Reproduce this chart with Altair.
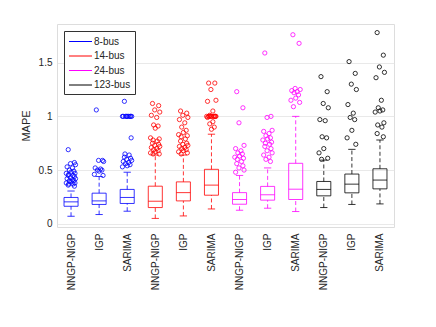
import json
import altair as alt
import pandas as pd

# ---------------- data ----------------
METHODS = ["NNGP-NIGP", "IGP", "SARIMA"] * 4
BUSES = ["8-bus"] * 3 + ["14-bus"] * 3 + ["24-bus"] * 3 + ["123-bus"] * 3
BUS_ORDER = ["8-bus", "14-bus", "24-bus", "123-bus"]
BUS_COLORS = ["#0000ff", "#ff0000", "#ff00ff", "#000000"]

Q1 = [0.163, 0.180, 0.189, 0.151, 0.213, 0.266, 0.182, 0.220, 0.226, 0.260, 0.288, 0.325]
MED = [0.204, 0.213, 0.245, 0.210, 0.290, 0.360, 0.226, 0.270, 0.322, 0.320, 0.369, 0.407]
Q3 = [0.245, 0.285, 0.320, 0.350, 0.390, 0.507, 0.290, 0.348, 0.563, 0.394, 0.463, 0.512]
LOW = [0.070, 0.086, 0.117, 0.050, 0.073, 0.138, 0.126, 0.145, 0.114, 0.151, 0.180, 0.185]
HIGH = [0.305, 0.440, 0.480, 0.640, 0.640, 0.834, 0.450, 0.520, 1.000, 0.593, 0.693, 0.780]

OUTLIERS = [
    [0.69, 0.57, 0.56, 0.55, 0.53, 0.52, 0.50, 0.49, 0.48, 0.47, 0.47, 0.46, 0.45, 0.45,
     0.44, 0.43, 0.42, 0.42, 0.41, 0.40, 0.40, 0.39, 0.38, 0.38, 0.37, 0.37, 0.36, 0.35],
    [1.06, 0.59, 0.59, 0.58, 0.52, 0.51, 0.50, 0.50, 0.49, 0.46, 0.45],
    [1.14, 1.00, 1.00, 1.00, 1.00, 1.00, 1.00, 1.00, 1.00, 1.00, 0.80, 0.65, 0.64, 0.62,
     0.61, 0.60, 0.59, 0.58, 0.57, 0.56, 0.55, 0.54, 0.53],
    [1.12, 1.10, 1.06, 1.04, 1.01, 0.99, 0.92, 0.91, 0.89, 0.80, 0.79, 0.78, 0.77, 0.75,
     0.74, 0.73, 0.72, 0.71, 0.70, 0.69, 0.68, 0.67, 0.66, 0.65, 0.65],
    [1.05, 1.03, 1.01, 0.99, 0.97, 0.94, 0.90, 0.87, 0.85, 0.83, 0.82, 0.81, 0.79, 0.77,
     0.75, 0.74, 0.73, 0.72, 0.71, 0.70, 0.69, 0.68, 0.67, 0.66, 0.65],
    [1.31, 1.31, 1.25, 1.15, 1.14, 1.05, 1.01, 1.00, 1.00, 1.00, 1.00, 1.00, 1.00, 1.00,
     1.00, 1.00, 1.00, 0.99, 0.95, 0.93, 0.90, 0.88],
    [1.23, 1.08, 0.94, 0.73, 0.70, 0.68, 0.66, 0.65, 0.63, 0.62, 0.61, 0.60, 0.58, 0.56,
     0.54, 0.52, 0.50, 0.48],
    [1.59, 1.00, 0.99, 0.87, 0.86, 0.84, 0.82, 0.80, 0.79, 0.78, 0.76, 0.75, 0.74, 0.72,
     0.70, 0.68, 0.66, 0.64, 0.62, 0.60, 0.58],
    [1.76, 1.68, 1.26, 1.25, 1.24, 1.23, 1.22, 1.20, 1.17, 1.15, 1.13, 1.09],
    [1.37, 1.23, 1.12, 1.08, 0.97, 0.96, 0.81, 0.80, 0.70, 0.66, 0.61, 0.60],
    [1.51, 1.40, 1.30, 1.25, 1.11, 1.03, 0.99, 0.97, 0.87, 0.80, 0.74],
    [1.78, 1.57, 1.46, 1.41, 1.36, 1.15, 1.08, 1.06, 1.05, 1.04, 0.94, 0.92, 0.90, 0.84, 0.81],
]
# horizontal jitter of the outlier circles (fraction of a category step)
JITTER = [-0.10, 0.12, -0.02, 0.16, -0.14, 0.05, -0.06, 0.10, 0.00, -0.17, 0.14, -0.08, 0.07]

TICK_LABELS = METHODS
Y_TICKS = [0, 0.5, 1, 1.5]

# ---------------- tables ----------------
box = pd.DataFrame({
    "idx": list(range(1, 13)), "method": METHODS, "bus": BUSES,
    "q1": Q1, "med": MED, "q3": Q3, "lo": LOW, "hi": HIGH,
})
rows = []
for i, vals in enumerate(OUTLIERS):
    for k, v in enumerate(vals):
        rows.append({"idx": i + 1, "bus": BUSES[i], "val": v, "jit": JITTER[k % len(JITTER)]})
out = pd.DataFrame(rows)

FONT = "Liberation Sans"
labels_js = json.dumps(TICK_LABELS)

LEGEND = alt.Legend(
    title=None, orient="none", legendX=7, legendY=7,
    symbolType="M-2,0H2", symbolSize=132, symbolStrokeWidth=1, symbolOffset=6,
    symbolFillColor="transparent",
    labelFont=FONT, labelFontSize=10, labelColor="#262626", labelOffset=7,
    padding=4, rowPadding=2.5, strokeColor="#333333", fillColor="white",
)
color = alt.Color("bus:N", scale=alt.Scale(domain=BUS_ORDER, range=BUS_COLORS), legend=LEGEND)

def X(field):
    return alt.X(field, type="quantitative",
                 scale=alt.Scale(domain=[0.5, 12.5], nice=False, zero=False),
                 axis=alt.Axis(values=list(range(1, 13)), labelExpr=f"{labels_js}[datum.value-1]",
                               labelAngle=270, title=None, grid=False, ticks=False, domain=False,
                               labelPadding=6, labelFontSize=10, labelFont=FONT,
                               labelColor="#262626"))

def Y(field):
    return alt.Y(field, type="quantitative",
                 scale=alt.Scale(domain=[-0.03, 1.86], nice=False, zero=False),
                 axis=alt.Axis(values=Y_TICKS, format="~g", title="MAPE", grid=True,
                               gridColor="#e3e3e3", gridWidth=0.8, ticks=False, domain=False,
                               labelPadding=5, labelFontSize=10, labelFont=FONT,
                               labelColor="#262626", titleFont=FONT, titleFontSize=11,
                               titleFontWeight="normal", titleColor="#262626", titlePadding=7))

base = alt.Chart(box).transform_calculate(
    bl="datum.idx - 0.25", br="datum.idx + 0.25",
    cl="datum.idx - 0.13", cr="datum.idx + 0.13",
)

SW = 0.8
rect = base.mark_rect(filled=False, strokeWidth=SW).encode(
    x=X("bl"), x2="br", y=Y("q1"), y2="q3", color=color)
median = base.mark_rule(strokeWidth=SW).encode(x=X("bl"), x2="br", y=Y("med"), color=color)
up = base.mark_rule(strokeWidth=SW, strokeDash=[4, 2.5]).encode(
    x=X("idx"), y=Y("q3"), y2="hi", color=color)
down = base.mark_rule(strokeWidth=SW, strokeDash=[4, 2.5]).encode(
    x=X("idx"), y=Y("lo"), y2="q1", color=color)
cap_hi = base.mark_rule(strokeWidth=SW).encode(x=X("cl"), x2="cr", y=Y("hi"), color=color)
cap_lo = base.mark_rule(strokeWidth=SW).encode(x=X("cl"), x2="cr", y=Y("lo"), color=color)

pts = alt.Chart(out).transform_calculate(xp="datum.idx + datum.jit").mark_point(
    shape="circle", filled=False, size=18, strokeWidth=SW, opacity=1
).encode(x=X("xp"), y=Y("val"), color=color)

chart = alt.layer(rect, median, up, down, cap_hi, cap_lo, pts).properties(
    width=337, height=203, autosize="none",
    padding={"left": 49, "top": 16, "right": 34, "bottom": 90},
).configure_view(stroke="#555555", strokeWidth=1).configure(background="white")

chart.save("out.html", embed_options={"renderer": "svg", "actions": False})
